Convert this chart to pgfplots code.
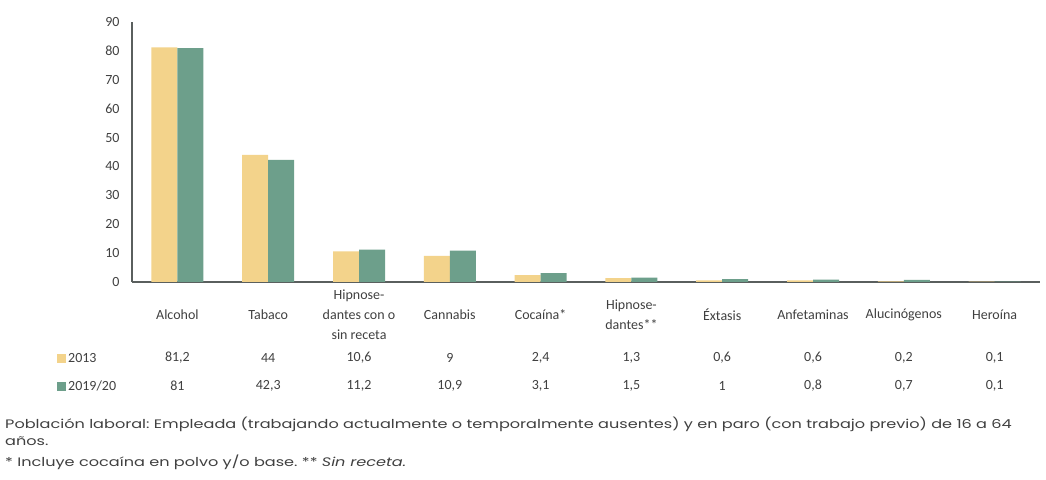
\documentclass[border=0pt]{standalone}
\usepackage{pgfplots}
\pgfplotsset{compat=1.18}
\usepackage{fontspec}
\setmainfont{Carlito}
\newfontfamily\gothic{Poppins}
\definecolor{cy}{HTML}{F3D38B}
\definecolor{cg}{HTML}{6D9F8B}
\definecolor{txt}{HTML}{404040}
\definecolor{axc}{HTML}{5A5F5E}
\tikzset{val/.style={font=\fontsize{14}{16}\selectfont, text=txt}}
\begin{document}
\frenchspacing
\begin{tikzpicture}
\path[use as bounding box] (0,0) rectangle (1046pt,479pt);
\begin{axis}[
  at={(132pt,197pt)}, anchor=south west,
  scale only axis, width=908pt, height=260pt,
  ybar=0pt, bar width=26pt,
  xmin=-0.5, xmax=9.5, ymin=0, ymax=90,
  ytick={0,10,...,90},
  xtick={0,...,9},
  xticklabels={Alcohol,Tabaco,{Hipnose-\\dantes con o\\sin receta},Cannabis,Cocaína*,{Hipnose-\\dantes**},Éxtasis,Anfetaminas,Alucinógenos,Heroína},
  xticklabel style={align=center, anchor=center, yshift=-33pt, font=\fontsize{14}{20}\selectfont, text=txt},
  yticklabel style={font=\fontsize{14}{16}\selectfont, text=txt, xshift=-9pt},
  /pgf/number format/assume math mode=true,
  axis lines*=left,
  axis line style={draw=axc, line width=2pt},
  major tick length=0pt,
  clip=false,
]
\addplot[fill=cy, draw=none] coordinates {(0,81.2) (1,44) (2,10.6) (3,9) (4,2.4) (5,1.3) (6,0.6) (7,0.6) (8,0.2) (9,0.1)};
\addplot[fill=cg, draw=none] coordinates {(0,81) (1,42.3) (2,11.2) (3,10.9) (4,3.1) (5,1.5) (6,1) (7,0.8) (8,0.7) (9,0.1)};
\node[val] at ([yshift=-76pt]axis cs:0,0) {81,2};
\node[val] at ([yshift=-76pt]axis cs:1,0) {44};
\node[val] at ([yshift=-76pt]axis cs:2,0) {10,6};
\node[val] at ([yshift=-76pt]axis cs:3,0) {9};
\node[val] at ([yshift=-76pt]axis cs:4,0) {2,4};
\node[val] at ([yshift=-76pt]axis cs:5,0) {1,3};
\node[val] at ([yshift=-76pt]axis cs:6,0) {0,6};
\node[val] at ([yshift=-76pt]axis cs:7,0) {0,6};
\node[val] at ([yshift=-76pt]axis cs:8,0) {0,2};
\node[val] at ([yshift=-76pt]axis cs:9,0) {0,1};
\node[val] at ([yshift=-104pt]axis cs:0,0) {81};
\node[val] at ([yshift=-104pt]axis cs:1,0) {42,3};
\node[val] at ([yshift=-104pt]axis cs:2,0) {11,2};
\node[val] at ([yshift=-104pt]axis cs:3,0) {10,9};
\node[val] at ([yshift=-104pt]axis cs:4,0) {3,1};
\node[val] at ([yshift=-104pt]axis cs:5,0) {1,5};
\node[val] at ([yshift=-104pt]axis cs:6,0) {1};
\node[val] at ([yshift=-104pt]axis cs:7,0) {0,8};
\node[val] at ([yshift=-104pt]axis cs:8,0) {0,7};
\node[val] at ([yshift=-104pt]axis cs:9,0) {0,1};
\end{axis}
\fill[cy] (57pt,116pt) rectangle (66pt,125pt);
\node[anchor=west, val, inner sep=0pt] at (68pt,121pt) {2013};
\fill[cg] (57pt,88pt) rectangle (66pt,97pt);
\node[anchor=west, val, inner sep=0pt] at (68pt,93pt) {2019/20};
\begin{scope}[every node/.style={anchor=west, inner sep=0pt, font=\gothic\fontsize{12.3}{17}\selectfont, text=txt}]
\node at (5pt,55pt) {\scalebox{1.31}[1]{Población laboral: Empleada (trabajando actualmente o temporalmente ausentes) y en paro (con trabajo previo) de 16 a 64}};
\node at (5pt,38pt) {\scalebox{1.31}[1]{años.}};
\node at (5pt,17pt) {\scalebox{1.31}[1]{* Incluye cocaína en polvo y/o base. ** \textit{Sin receta.}}};
\end{scope}
\end{tikzpicture}
\end{document}
